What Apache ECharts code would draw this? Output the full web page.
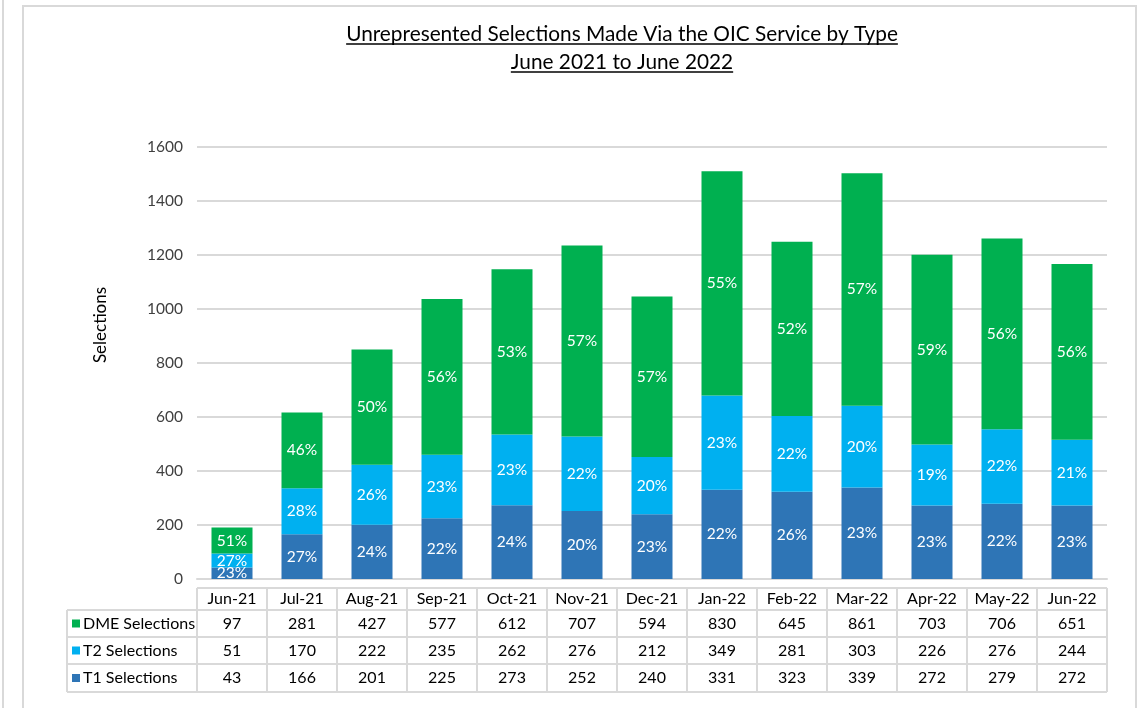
<!DOCTYPE html>
<html><head><meta charset="utf-8">
<script src="https://cdn.jsdelivr.net/npm/echarts@6/dist/echarts.min.js"></script>
<style>html,body{margin:0;padding:0;background:#fff;} #c{width:1142px;height:708px;}</style>
</head><body><div id="c"></div>
<script>
const categories = ['Jun-21','Jul-21','Aug-21','Sep-21','Oct-21','Nov-21','Dec-21','Jan-22','Feb-22','Mar-22','Apr-22','May-22','Jun-22'];
const dmeSelections = [97,281,427,577,612,707,594,830,645,861,703,706,651];
const t2Selections = [51,170,222,235,262,276,212,349,281,303,226,276,244];
const t1Selections = [43,166,201,225,273,252,240,331,323,339,272,279,272];
const seriesNames = ['DME Selections','T2 Selections','T1 Selections'];
const seriesColors = ['#00B050','#00B0F0','#2E75B6'];
const titleLines = ['Unrepresented Selections Made Via the OIC Service by Type','June 2021 to June 2022'];
const yAxisTitle = 'Selections';
const yMin = 0, yMax = 1600, yStep = 200;

const FONT = 'Lato, "Open Sans", sans-serif';
const totals = categories.map((c,i)=>dmeSelections[i]+t2Selections[i]+t1Selections[i]);
const pct = p => Math.round(p.value / totals[p.dataIndex] * 100) + '%';

const chart = echarts.init(document.getElementById('c'), null, {renderer:'canvas'});

function barSeries(name, data, color){
  return {
    name, type:'bar', stack:'total', data, barWidth:41,
    itemStyle:{color},
    label:{show:true, position:'inside', formatter:pct, color:'#fff', fontSize:15.5, fontFamily:FONT},
    emphasis:{disabled:true}
  };
}

chart.setOption({
  animation:false,
  backgroundColor:'#fff',
  grid:{left:197, right:35, top:147, bottom:129, containLabel:false},
  xAxis:{type:'category', data:categories,
    axisLine:{show:true, lineStyle:{color:'#d9d9d9', width:2}},
    axisTick:{show:false}, axisLabel:{show:false}},
  yAxis:{type:'value', min:yMin, max:yMax, interval:yStep,
    axisLine:{show:false}, axisTick:{show:false},
    axisLabel:{fontSize:15.5, color:'#404040', fontFamily:FONT, margin:14, formatter: v => String(v)},
    splitLine:{lineStyle:{color:'#d9d9d9', width:2}}},
  series:[
    barSeries(seriesNames[2], t1Selections, seriesColors[2]),
    barSeries(seriesNames[1], t2Selections, seriesColors[1]),
    barSeries(seriesNames[0], dmeSelections, seriesColors[0])
  ]
});

// ---- Build frame, titles and data table as graphics ----
const ctx = document.createElement('canvas').getContext('2d');
function textWidth(t, size){ ctx.font = size+'px '+FONT; return ctx.measureText(t).width; }

const xs = categories.map(c => chart.convertToPixel({xAxisIndex:0}, c));
const colW = xs[1]-xs[0];
const y0 = chart.convertToPixel({yAxisIndex:0}, 0);
const tLeft = xs[0]-colW/2, tRight = xs[xs.length-1]+colW/2;
const labelLeft = 67;
const rowY = [y0+9, y0+31, y0+58, y0+85, y0+113];
const lineColor = '#d9d9d9';
const TFS = 16;
const g = [];

// outer frames
g.push({type:'line', shape:{x1:3,y1:0,x2:3,y2:708}, style:{stroke:'#d9d9d9', lineWidth:2}});
g.push({type:'rect', shape:{x:23,y:6,width:1113,height:760}, style:{fill:'none', stroke:'#d9d9d9', lineWidth:2}});

// titles
const titleCx = 622;
const titleY = [34, 62];
const TITLE_FS = 20.8;
titleLines.forEach((t,i)=>{
  g.push({type:'text', x:titleCx, y:titleY[i], style:{text:t, font:TITLE_FS+'px '+FONT, fill:'#000', align:'center', verticalAlign:'middle'}});
  const w = textWidth(t,TITLE_FS);
  g.push({type:'line', shape:{x1:titleCx-w/2, y1:titleY[i]+10, x2:titleCx+w/2, y2:titleY[i]+10}, style:{stroke:'#000', lineWidth:1.5}});
});

// y axis title
g.push({type:'text', x:101, y:325, rotation:Math.PI/2, style:{text:yAxisTitle, font:'17px '+FONT, fill:'#000', align:'center', verticalAlign:'middle'}});

// table lines
g.push({type:'line', shape:{x1:tLeft,y1:rowY[0],x2:tRight,y2:rowY[0]}, style:{stroke:lineColor,lineWidth:2}});
for (let r=1;r<rowY.length;r++){
  g.push({type:'line', shape:{x1:labelLeft,y1:rowY[r],x2:tRight,y2:rowY[r]}, style:{stroke:lineColor,lineWidth:2}});
}
g.push({type:'line', shape:{x1:labelLeft,y1:rowY[1],x2:labelLeft,y2:rowY[4]}, style:{stroke:lineColor,lineWidth:2}});
for (let k=0;k<=categories.length;k++){
  const x = tLeft + k*colW;
  g.push({type:'line', shape:{x1:x,y1:rowY[0],x2:x,y2:rowY[4]}, style:{stroke:lineColor,lineWidth:2}});
}
// header
categories.forEach((c,i)=>{
  g.push({type:'text', x:xs[i], y:(rowY[0]+rowY[1])/2, style:{text:c, font:TFS+'px '+FONT, fill:'#000', align:'center', verticalAlign:'middle'}});
});
// rows
const rows = [dmeSelections, t2Selections, t1Selections];
rows.forEach((arr,r)=>{
  const cy = (rowY[r+1]+rowY[r+2])/2;
  g.push({type:'rect', shape:{x:labelLeft+5, y:cy-4, width:8, height:8}, style:{fill:seriesColors[r]}});
  g.push({type:'text', x:labelLeft+16, y:cy, style:{text:seriesNames[r], font:TFS+'px '+FONT, fill:'#000', align:'left', verticalAlign:'middle'}});
  arr.forEach((v,i)=>{
    g.push({type:'text', x:xs[i], y:cy, style:{text:String(v), font:TFS+'px '+FONT, fill:'#000', align:'center', verticalAlign:'middle'}});
  });
});

chart.setOption({graphic:{elements:g}});
</script>
</body></html>
